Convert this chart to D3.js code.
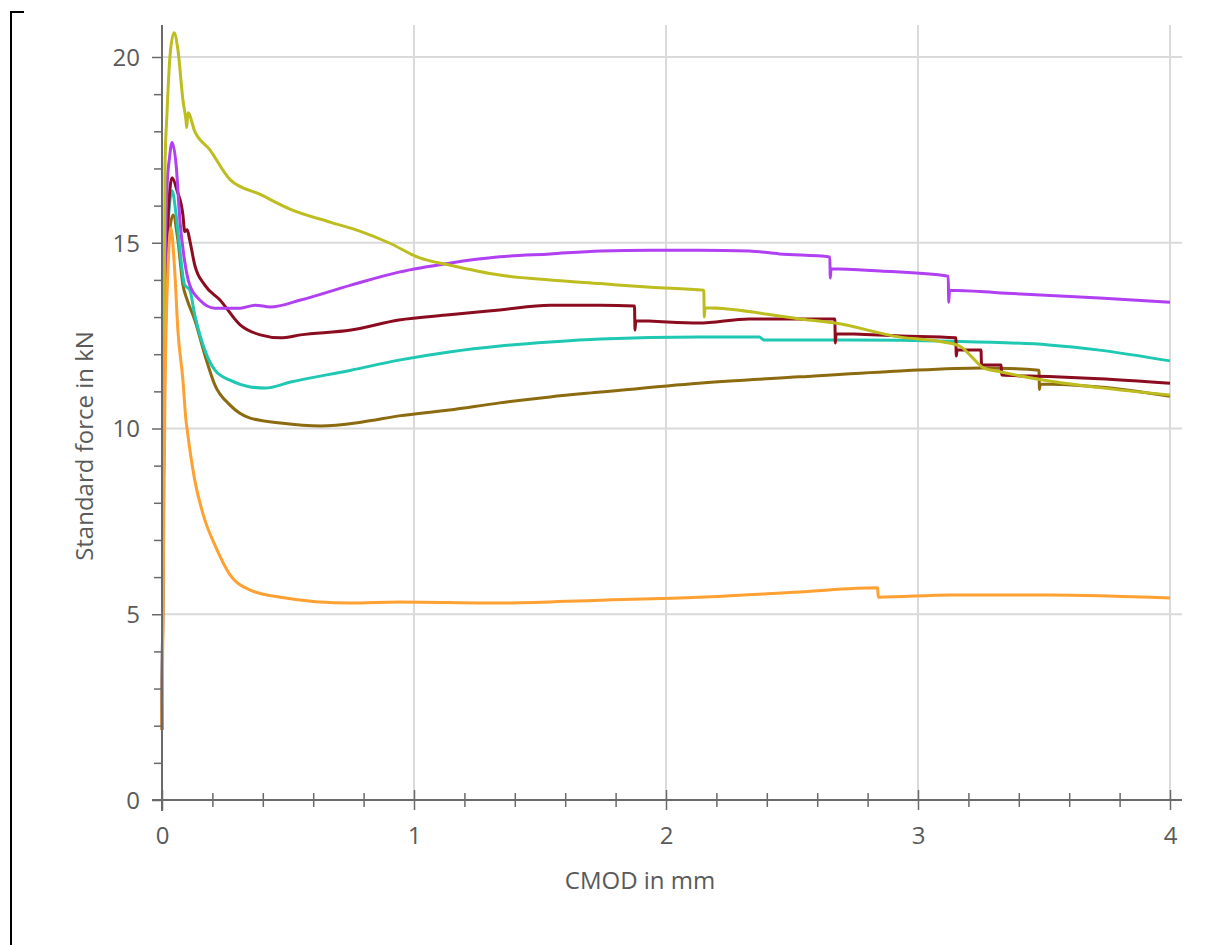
<!DOCTYPE html>
<html>
<head>
<meta charset="utf-8">
<script src="https://cdn.jsdelivr.net/npm/d3@7"></script>
<style>
  body { margin: 0; background: #fff; }
  svg { display: block; }
  svg text { font-family: "Open Sans", "Noto Sans", sans-serif; }
</style>
</head>
<body>
<svg id="chart" width="1216" height="945"></svg>
<script>
// Series data: [CMOD mm, force kN]
const seriesNames = ["olive", "teal", "darkred", "purple", "yellow", "orange"];
const seriesColors = ["#8c6b10", "#1fc8b2", "#8b0b1f", "#b040f2", "#bdbd1f", "#ffa033"];

const olive = [[0,1.9],[0.005,8],[0.015,13],[0.03,15.3],[0.044,15.75],[0.063,15.07],[0.083,13.86],[0.1,13.46],[0.13,12.92],[0.17,11.98],[0.21,11.17],[0.27,10.63],[0.35,10.28],[0.47,10.15],[0.63,10.07],[0.79,10.17],[0.94,10.34],[1.14,10.5],[1.34,10.69],[1.54,10.85],[1.74,10.98],[2.13,11.22],[2.53,11.39],[2.93,11.55],[3.25,11.63],[3.48,11.57],[3.482,11.05],[3.485,11.2],[3.72,11.12],[4.0,10.87]];
const teal = [[0,1.9],[0.005,8],[0.012,13],[0.025,15.6],[0.04,16.4],[0.056,15.75],[0.071,14.8],[0.09,13.86],[0.1,13.8],[0.11,13.73],[0.13,13.06],[0.17,12.11],[0.21,11.57],[0.27,11.3],[0.35,11.12],[0.41,11.09],[0.51,11.25],[0.75,11.57],[0.94,11.84],[1.14,12.06],[1.34,12.22],[1.54,12.33],[1.74,12.41],[2.13,12.46],[2.37,12.46],[2.39,12.38],[2.73,12.38],[3.13,12.35],[3.52,12.25],[3.72,12.11],[4.0,11.82]];
const darkred = [[0,1.9],[0.005,8],[0.012,13],[0.025,15.8],[0.04,16.75],[0.06,16.4],[0.083,15.75],[0.09,15.3],[0.1,15.35],[0.11,15.07],[0.13,14.4],[0.17,13.86],[0.23,13.46],[0.31,12.79],[0.39,12.52],[0.47,12.44],[0.55,12.52],[0.75,12.65],[0.94,12.92],[1.14,13.06],[1.34,13.19],[1.54,13.32],[1.74,13.32],[1.875,13.3],[1.877,12.65],[1.88,12.9],[2.13,12.84],[2.33,12.95],[2.67,12.95],[2.672,12.3],[2.675,12.55],[2.93,12.49],[3.15,12.44],[3.152,11.95],[3.155,12.11],[3.25,12.11],[3.252,11.71],[3.33,11.71],[3.332,11.44],[3.52,11.4],[3.72,11.34],[4.0,11.22]];
const purple = [[0,1.9],[0.005,8],[0.01,13],[0.02,16.5],[0.03,17.3],[0.04,17.7],[0.056,17.1],[0.071,15.6],[0.09,14.5],[0.11,13.86],[0.15,13.46],[0.21,13.24],[0.31,13.24],[0.37,13.32],[0.43,13.27],[0.55,13.46],[0.75,13.86],[0.94,14.21],[1.14,14.45],[1.34,14.62],[1.54,14.7],[1.74,14.78],[1.94,14.8],[2.13,14.8],[2.33,14.78],[2.45,14.7],[2.65,14.62],[2.652,14.05],[2.655,14.3],[2.85,14.24],[3.12,14.1],[3.122,13.4],[3.125,13.72],[3.33,13.65],[3.72,13.51],[4.0,13.4]];
const yellow = [[0,1.9],[0.004,6],[0.008,12],[0.012,17.1],[0.02,18.5],[0.032,20.05],[0.048,20.65],[0.063,20.2],[0.083,18.85],[0.095,18.3],[0.098,18.1],[0.103,18.5],[0.13,18.0],[0.19,17.5],[0.27,16.7],[0.39,16.3],[0.51,15.9],[0.67,15.55],[0.79,15.3],[0.9,15.0],[1.02,14.6],[1.14,14.4],[1.34,14.13],[1.54,14.0],[1.74,13.9],[1.94,13.8],[2.15,13.72],[2.152,13.0],[2.155,13.25],[2.53,12.95],[2.67,12.84],[2.93,12.46],[3.1,12.33],[3.17,12.2],[3.21,11.95],[3.26,11.63],[3.33,11.52],[3.49,11.31],[3.72,11.1],[4.0,10.9]];
const orange = [[0,1.9],[0.005,6],[0.012,11],[0.025,14.5],[0.035,15.4],[0.05,14.3],[0.063,12.65],[0.083,11.3],[0.095,10.23],[0.1,9.96],[0.13,8.61],[0.17,7.54],[0.21,6.86],[0.27,6.06],[0.35,5.65],[0.47,5.46],[0.75,5.3],[0.94,5.33],[1.34,5.3],[1.74,5.38],[2.13,5.46],[2.53,5.6],[2.84,5.71],[2.842,5.46],[3.13,5.52],[3.52,5.52],[4.0,5.44]];

const xTicks = [0, 1, 2, 3, 4];
const yTicks = [0, 5, 10, 15, 20];
const xLabel = "CMOD in mm";
const yLabel = "Standard force in kN";

const allSeries = [olive, teal, darkred, purple, yellow, orange];

const svg = d3.select("#chart");

// Outer frame bracket
svg.append("path")
   .attr("d", "M24,12H11V945")
   .attr("fill", "none")
   .attr("stroke", "#000")
   .attr("stroke-width", 2);

const x = d3.scaleLinear().domain([0, 4]).range([162, 1170]);
const y = d3.scaleLinear().domain([0, 20]).range([800, 57]);
const plotRight = 1182, plotTop = 25;

// Grid lines
const grid = svg.append("g").attr("stroke", "#dadada").attr("stroke-width", 2);
grid.selectAll(".hg").data(yTicks.slice(1)).join("line")
    .attr("x1", x(0)).attr("x2", plotRight)
    .attr("y1", d => y(d)).attr("y2", d => y(d));
grid.selectAll(".vg").data(xTicks.slice(1)).join("line")
    .attr("x1", d => x(d)).attr("x2", d => x(d))
    .attr("y1", plotTop).attr("y2", y(0));

// Lines
const line = d3.line().x(d => x(d[0])).y(d => y(d[1])).curve(d3.curveMonotoneX);
svg.append("g").selectAll("path").data(allSeries).join("path")
   .attr("d", line)
   .attr("fill", "none")
   .attr("stroke", (d, i) => seriesColors[i])
   .attr("stroke-width", 3)
   .attr("stroke-linejoin", "round");

const axisColor = "#6a6a6a";
const textColor = "#5a5a5a";

// Y axis: minor ticks every 1, major every 5
const yAxis = svg.append("g").attr("transform", "translate(" + x(0) + ",0)");
yAxis.call(d3.axisLeft(y).tickValues(d3.range(0, 21, 1)).tickSize(8).tickFormat(""));
yAxis.attr("font-family", null).attr("font-size", null);
yAxis.selectAll(".tick line").filter(d => d % 5 === 0).attr("x2", -10);
yAxis.call(g => g.select(".domain").remove());
yAxis.selectAll(".tick line").attr("stroke", axisColor).attr("stroke-width", 1.5);
yAxis.selectAll(".tick").filter(d => d % 5 === 0).append("text")
     .attr("x", -22).attr("dy", "0.35em")
     .attr("text-anchor", "end")
     .attr("fill", textColor)
     .attr("font-size", 24)
     .text(d => d);
svg.append("line")
   .attr("x1", x(0)).attr("x2", x(0)).attr("y1", plotTop).attr("y2", 811)
   .attr("stroke", axisColor).attr("stroke-width", 2);

// X axis: minor ticks every 0.2 crossing the line
const xAxis = svg.append("g").attr("transform", "translate(0," + y(0) + ")");
xAxis.call(d3.axisBottom(x).tickValues(d3.range(0, 21).map(i => i / 5)).tickSize(7).tickFormat(""));
xAxis.attr("font-family", null).attr("font-size", null);
xAxis.call(g => g.select(".domain").remove());
xAxis.selectAll(".tick line").attr("y1", -7).attr("stroke", axisColor).attr("stroke-width", 1.5);
xAxis.selectAll(".tick").filter(d => Math.abs(d - Math.round(d)) < 1e-6).select("line")
     .attr("y1", -10).attr("y2", 10);
xAxis.selectAll(".tick").filter(d => Math.abs(d - Math.round(d)) < 1e-6).append("text")
     .attr("y", 36).attr("dy", "0.35em")
     .attr("text-anchor", "middle")
     .attr("fill", textColor)
     .attr("font-size", 24)
     .text(d => Math.round(d));
svg.append("line")
   .attr("x1", 152).attr("x2", plotRight).attr("y1", y(0)).attr("y2", y(0))
   .attr("stroke", axisColor).attr("stroke-width", 2);

// Axis titles
svg.append("text")
   .attr("x", 640).attr("y", 881).attr("dy", "0.35em")
   .attr("text-anchor", "middle")
   .attr("fill", textColor)
   .attr("font-size", 24)
   .text(xLabel);
svg.append("text")
   .attr("transform", "translate(85,446) rotate(-90)")
   .attr("dy", "0.35em")
   .attr("text-anchor", "middle")
   .attr("fill", textColor)
   .attr("font-size", 24)
   .text(yLabel);
</script>
</body>
</html>
